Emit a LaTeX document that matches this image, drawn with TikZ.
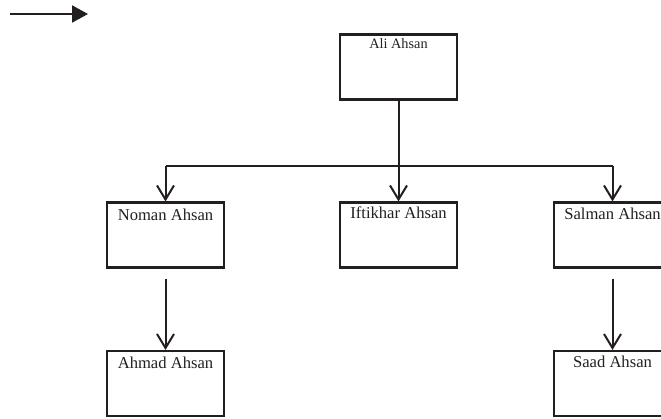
\documentclass[tikz,border=0pt]{standalone}
\usepackage{fontspec}
\setmainfont{Liberation Serif}
\usetikzlibrary{arrows.meta}
\definecolor{inkgray}{HTML}{231F20}
\newcommand{\boxw}{117pt}
\newcommand{\boxh}{65pt}
\newcommand{\namesize}{\fontsize{16.6}{19}\selectfont}
\newcommand{\rootsize}{\fontsize{14.3}{17}\selectfont}
\tikzset{
  person/.style={draw=inkgray, line width=2.2pt, rectangle,
    minimum width=\boxw, minimum height=\boxh, inner sep=0pt},
  nametag/.style={anchor=base, inner sep=0pt, text=inkgray, font=\namesize},
  link/.style={draw=inkgray, line width=2pt},
  tip/.style={link, -{Straight Barb[length=14pt, width=17pt, line width=2pt]}}
}
\begin{document}
\begin{tikzpicture}[x=1pt, y=-1pt]
  \useasboundingbox (0,0) rectangle (661,418);
  \clip (0,0) rectangle (661,418);

  % legend arrow
  \coordinate (keyA) at (10,14);
  \coordinate (keyB) at (88,14);
  \draw[link, -{Triangle[length=16pt, width=17pt]}, fill=inkgray] (keyA) -- (keyB);

  % family boxes
  \node[person, label={[nametag, font=\rootsize, yshift=-15pt]north:Ali Ahsan}]
    (ali) at (398.5,67) {};
  \node[person, label={[nametag, yshift=-19pt]north:Noman Ahsan}]
    (noman) at (165.5,235) {};
  \node[person, label={[nametag, yshift=-17pt]north:Iftikhar Ahsan}]
    (iftikhar) at (398.5,235) {};
  \node[person, label={[nametag, yshift=-18pt]north:Salman Ahsan}]
    (salman) at (612.5,235) {};
  \node[person, label={[nametag, yshift=-19pt]north:Ahmad Ahsan}]
    (ahmad) at (165.5,383.5) {};
  \node[person, label={[nametag, yshift=-18pt]north:Saad Ahsan}]
    (saad) at (612.5,383.5) {};

  % connectors
  \coordinate (bus) at (398.5,166);
  \draw[link] (noman.north |- bus) -- (salman.north |- bus);
  \draw[tip] (ali.south) -- (iftikhar.north);
  \draw[tip] (noman.north |- bus) -- (noman.north);
  \draw[tip] (salman.north |- bus) -- (salman.north);
  \draw[tip] ([yshift=-10pt]noman.south) -- (ahmad.north);
  \draw[tip] ([yshift=-10pt]salman.south) -- (saad.north);
\end{tikzpicture}
\end{document}
